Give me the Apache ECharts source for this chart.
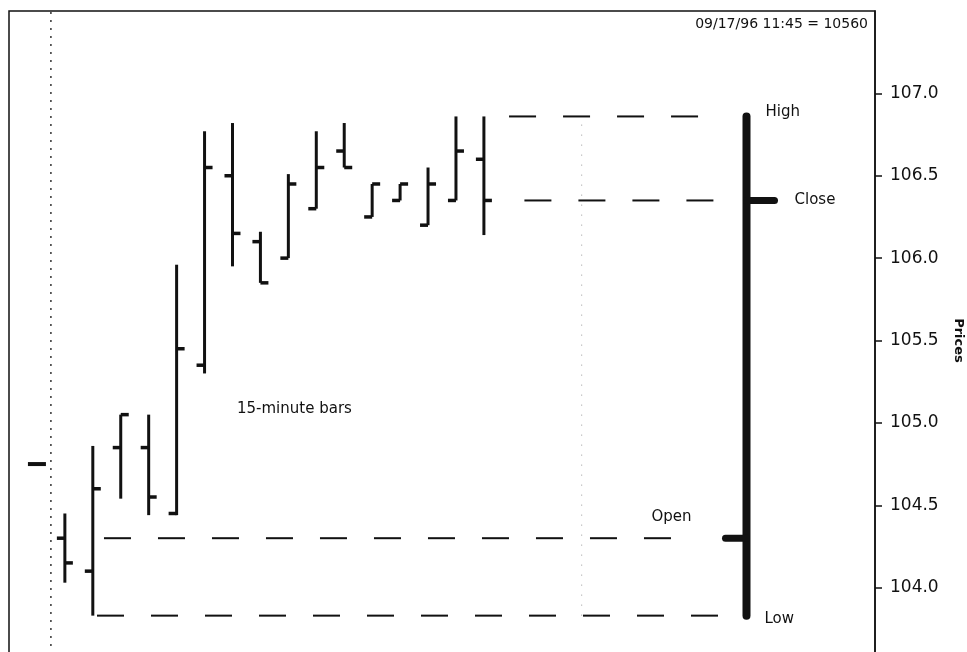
<!DOCTYPE html>
<html>
<head>
<meta charset="utf-8">
<script src="https://cdn.jsdelivr.net/npm/echarts@6/dist/echarts.min.js"></script>
<style>
html,body{margin:0;padding:0;background:#fff;}
#chart{width:967px;height:652px;}
</style>
</head>
<body>
<div id="chart"></div>
<script>
// ---- data ----
const barIndex = [0,1,2,3,4,5,6,7,8,9,10,11,12,13,14,15];
const opens  = [104.30,104.10,104.85,104.85,104.45,105.35,106.50,106.10,106.00,106.30,106.65,106.25,106.35,106.20,106.35,106.60];
const highs  = [104.45,104.86,105.05,105.05,105.96,106.77,106.82,106.16,106.51,106.77,106.82,106.45,106.45,106.55,106.86,106.86];
const lows   = [104.03,103.83,104.54,104.44,104.44,105.30,105.95,105.85,106.00,106.30,106.55,106.25,106.35,106.20,106.35,106.14];
const closes = [104.15,104.60,105.05,104.55,105.45,106.55,106.15,105.85,106.45,106.55,106.55,106.45,106.45,106.45,106.65,106.35];
const prevClose = [[-1, 104.75]];
const summaryX = 24.4;
const dayBreakX = -0.5;
const nowX = 18.5;
const yTicks = [104.0,104.5,105.0,105.5,106.0,106.5,107.0];
const headerText = '09/17/96 11:45 = 10560';
const noteText = '15-minute bars';
const axisName = 'Prices';

// summary (daily) bar derived from the 15-minute bars
const sOpen = opens[0];
const sClose = closes[closes.length - 1];
const sHigh = Math.max.apply(null, highs);
const sLow = Math.min.apply(null, lows);

// guide lines: [value, from x, to x]
const guides = [
  [sHigh, 15.9, 23.6],
  [sClose, 16.45, 23.8],
  [sOpen, 1.4, 22.4],
  [sLow, 1.15, 23.45]
];

const ohlcData = barIndex.map((x, i) => [x, opens[i], highs[i], lows[i], closes[i]]);
const summaryData = [[summaryX, sOpen, sHigh, sLow, sClose]];

const INK = '#111';
const FONT = '"DejaVu Sans", "Open Sans", sans-serif';

function renderOHLC(params, api) {
  const x = api.value(0);
  const pO = api.coord([x, api.value(1)]);
  const pH = api.coord([x, api.value(2)]);
  const pL = api.coord([x, api.value(3)]);
  const pC = api.coord([x, api.value(4)]);
  const st = {stroke: INK, lineWidth: 3};
  const tk = {stroke: INK, lineWidth: 3.5};
  return {type: 'group', children: [
    {type: 'line', shape: {x1: pH[0], y1: pH[1], x2: pL[0], y2: pL[1]}, style: st},
    {type: 'line', shape: {x1: pO[0] - 8, y1: pO[1], x2: pO[0], y2: pO[1]}, style: tk},
    {type: 'line', shape: {x1: pC[0], y1: pC[1], x2: pC[0] + 8, y2: pC[1]}, style: tk}
  ]};
}

function renderSummary(params, api) {
  const x = api.value(0);
  const pO = api.coord([x, api.value(1)]);
  const pH = api.coord([x, api.value(2)]);
  const pL = api.coord([x, api.value(3)]);
  const pC = api.coord([x, api.value(4)]);
  const st = {stroke: INK, lineWidth: 8, lineCap: 'round'};
  const tk = {stroke: INK, lineWidth: 7, lineCap: 'round'};
  const tf = {fill: INK, fontSize: 15, fontFamily: FONT, textVerticalAlign: 'middle'};
  return {type: 'group', children: [
    {type: 'line', shape: {x1: pH[0], y1: pH[1], x2: pL[0], y2: pL[1]}, style: st},
    {type: 'line', shape: {x1: pO[0] - 21, y1: pO[1], x2: pO[0], y2: pO[1]}, style: tk},
    {type: 'line', shape: {x1: pC[0], y1: pC[1], x2: pC[0] + 28, y2: pC[1]}, style: tk},
    {type: 'text', x: pH[0] + 19, y: pH[1] - 4, style: Object.assign({text: 'High', textAlign: 'left'}, tf)},
    {type: 'text', x: pC[0] + 48, y: pC[1], style: Object.assign({text: 'Close', textAlign: 'left'}, tf)},
    {type: 'text', x: pO[0] - 75, y: pO[1] - 21, style: Object.assign({text: 'Open', textAlign: 'center'}, tf)},
    {type: 'text', x: pL[0] + 18, y: pL[1] + 3, style: Object.assign({text: 'Low', textAlign: 'left'}, tf)}
  ]};
}

function renderPrev(params, api) {
  const p = api.coord([api.value(0), api.value(1)]);
  return {type: 'line', shape: {x1: p[0] - 9, y1: p[1], x2: p[0] + 9, y2: p[1]}, style: {stroke: INK, lineWidth: 4}};
}

const series = [];
guides.forEach(g => {
  series.push({
    type: 'line', data: [[g[1], g[0]], [g[2], g[0]]], symbol: 'none', silent: true,
    lineStyle: {color: INK, width: 2, type: [27, 27]}, z: 1
  });
});
series.push({
  type: 'line', data: [[dayBreakX, 103.5], [dayBreakX, 107.5]], symbol: 'none', silent: true,
  lineStyle: {color: '#333', width: 1.5, type: [2, 6]}, z: 1
});
series.push({
  type: 'line', data: [[nowX, sLow], [nowX, sHigh]], symbol: 'none', silent: true,
  lineStyle: {color: '#999', width: 1, type: [1, 9]}, z: 1
});
series.push({type: 'custom', renderItem: renderOHLC, data: ohlcData, z: 3, silent: true});
series.push({type: 'custom', renderItem: renderSummary, data: summaryData, z: 3, silent: true});
series.push({type: 'custom', renderItem: renderPrev, data: prevClose, z: 3, silent: true});

const chart = echarts.init(document.getElementById('chart'), null, {renderer: 'canvas'});
chart.setOption({
  animation: false,
  backgroundColor: '#fff',
  grid: {left: 9, width: 866, top: 11, height: 659, outerBoundsMode: 'none', containLabel: false,
         show: true, borderColor: INK, borderWidth: 1.5, backgroundColor: 'transparent'},
  xAxis: {type: 'value', min: -2, max: 29, show: false},
  yAxis: {
    type: 'value', position: 'right', min: 103.5, max: 107.5, interval: 0.5,
    name: axisName, nameLocation: 'middle', nameGap: 77, nameRotate: -90,
    nameTextStyle: {color: INK, fontSize: 13, fontFamily: FONT, fontWeight: 'bold'},
    axisLine: {show: true, onZero: false, lineStyle: {color: INK, width: 1.5}},
    axisTick: {show: true, inside: false, length: 7, customValues: yTicks, lineStyle: {color: INK, width: 1.5}},
    axisLabel: {
      color: INK, fontSize: 17, fontFamily: FONT, margin: 15, customValues: yTicks,
      formatter: v => yTicks.some(t => Math.abs(t - v) < 1e-6) ? v.toFixed(1) : ''
    },
    splitLine: {show: false}
  },
  graphic: [
    {type: 'text', right: 99, top: 17, style: {text: headerText, fill: INK, fontSize: 14, fontFamily: FONT}},
    {type: 'text', left: 237, top: 402, style: {text: noteText, fill: INK, fontSize: 15, fontFamily: FONT}}
  ],
  series: series
});
</script>
</body>
</html>
